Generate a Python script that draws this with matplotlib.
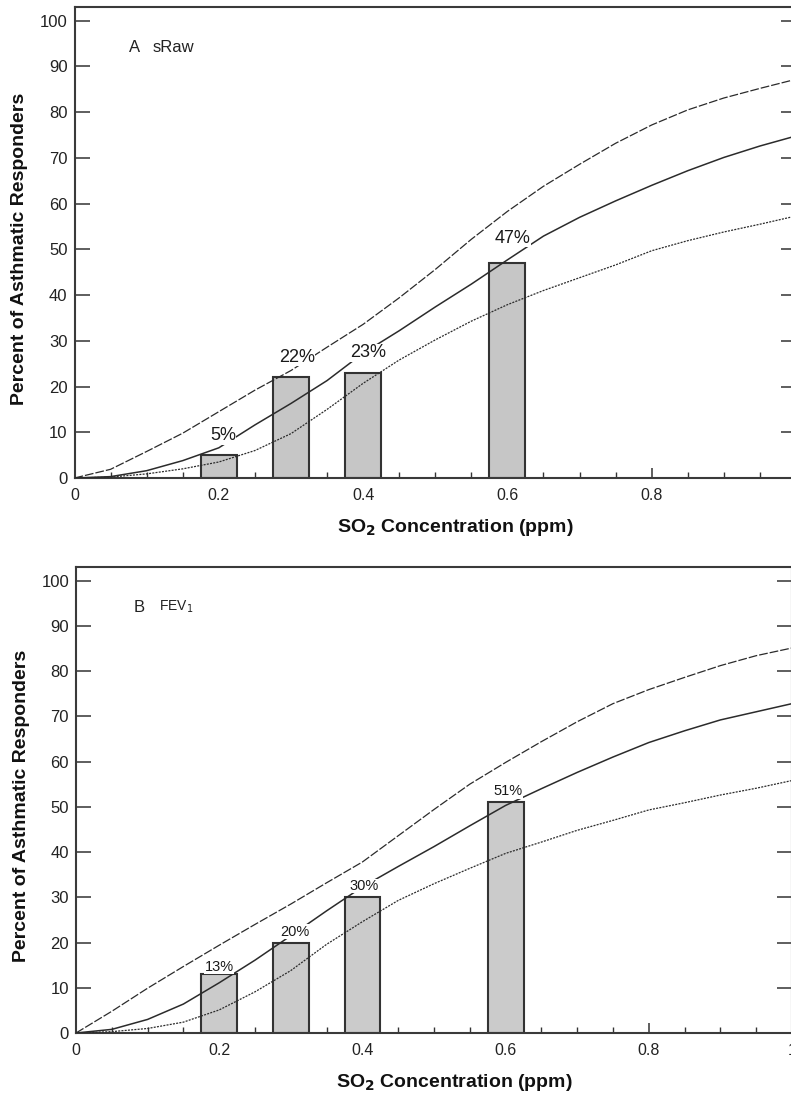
import matplotlib
matplotlib.use("Agg")
import matplotlib.pyplot as plt
from matplotlib.ticker import FixedLocator, MultipleLocator, FixedFormatter

plt.rcParams['font.family'] = ['Liberation Sans', 'DejaVu Sans']

# Concentration grid for the fitted dose-response curves (ppm)
conc_grid = [0.0, 0.05, 0.1, 0.15, 0.2, 0.25, 0.3, 0.35, 0.4, 0.45, 0.5,
             0.55, 0.6, 0.65, 0.7, 0.75, 0.8, 0.85, 0.9, 0.95, 1.0]

# Panel A: sRaw
sraw_upper = [0.0, 1.9, 5.8, 9.8, 14.5, 19.2, 23.5, 28.6, 33.6, 39.4, 45.6,
              52.2, 58.3, 63.8, 68.6, 73.2, 77.2, 80.5, 83.1, 85.2, 87.2]
sraw_fit = [0.0, 0.3, 1.6, 3.8, 6.6, 11.6, 16.3, 21.3, 27.3, 32.2, 37.4,
            42.4, 47.7, 52.9, 57.0, 60.6, 64.0, 67.2, 70.1, 72.6, 74.8]
sraw_lower = [0.0, 0.2, 0.9, 2.0, 3.5, 6.0, 9.7, 15.0, 20.7, 25.8, 30.2,
              34.3, 37.9, 41.0, 43.8, 46.6, 49.7, 51.9, 53.8, 55.5, 57.3]

# Panel B: FEV1
fev_upper = [0.0, 4.8, 9.9, 14.7, 19.4, 24.0, 28.5, 33.2, 37.8, 43.6, 49.4,
             55.0, 59.8, 64.4, 68.8, 72.8, 75.9, 78.6, 81.2, 83.4, 85.1]
fev_fit = [0.0, 0.8, 3.0, 6.4, 11.1, 16.1, 21.5, 27.0, 32.3, 36.8, 41.2,
           45.8, 50.3, 54.0, 57.6, 61.0, 64.2, 66.8, 69.2, 71.0, 72.8]
fev_lower = [0.0, 0.3, 1.0, 2.4, 5.1, 9.1, 13.8, 19.6, 24.6, 29.3, 33.0,
             36.4, 39.7, 42.2, 44.8, 47.0, 49.3, 50.9, 52.6, 54.1, 55.8]

# Observed percentages of responders at each exposure level
bar_conc = [0.2, 0.3, 0.4, 0.6]
sraw_pct = [5, 22, 23, 47]
fev_pct = [13, 20, 30, 51]

# Where each percentage label sits (x in ppm, y in percent)
sraw_label_x = [0.206, 0.308, 0.407, 0.607]
sraw_label_y = [9.2, 26.4, 27.4, 52.4]
fev_label_x = [0.200, 0.306, 0.402, 0.604]
fev_label_y = [14.6, 22.4, 32.5, 53.4]

x_ticks = [0, 0.2, 0.4, 0.6, 0.8, 1.0]
x_tick_labels_a = ["0", "0.2", "0.4", "0.6", "0.8", ""]
x_tick_labels_b = ["0", "0.2", "0.4", "0.6", "0.8", "1"]
y_ticks = list(range(0, 101, 10))

W, H = 791, 1095
fig = plt.figure(figsize=(W / 100, H / 100), dpi=100)

ink = '#2b2b2b'


def draw_panel(rect, upper, fit, lower, pct, lx, ly, label_size, bar_face,
               tick_labels, tag, tag_x, tag_sub, sub_x, sub_size):
    ax = fig.add_axes(rect)
    ax.bar(bar_conc, pct, width=0.05, color=bar_face, edgecolor='#333333',
           linewidth=1.5, zorder=2)
    ax.plot(conc_grid, upper, color=ink, lw=0.9, dashes=(7, 1.6), zorder=3)
    ax.plot(conc_grid, fit, color=ink, lw=1.1, zorder=3)
    ax.plot(conc_grid, lower, color=ink, lw=0.9, dashes=(1.6, 1.0), zorder=3)
    for v, x, y in zip(pct, lx, ly):
        ax.text(x, y, f"{v}%", ha='center', va='center', fontsize=label_size,
                color='#1a1a1a', zorder=4,
                bbox=dict(facecolor='white', edgecolor='none', pad=0.3))

    ax.set_xlim(0, 1.0)
    ax.set_ylim(0, 103)
    ax.xaxis.set_major_locator(FixedLocator(x_ticks))
    ax.xaxis.set_major_formatter(FixedFormatter(tick_labels))
    ax.xaxis.set_minor_locator(MultipleLocator(0.05))
    ax.set_yticks(y_ticks)

    ax.tick_params(axis='x', which='major', direction='in', length=7.5,
                   width=1.1, colors='#333333', labelcolor='#222222',
                   labelsize=11.5, pad=7, top=False)
    ax.tick_params(axis='x', which='minor', direction='in', length=4.5,
                   width=1.0, colors='#333333', top=False)
    ax.tick_params(axis='y', which='major', direction='in', length=10.5,
                   width=1.1, colors='#333333', labelcolor='#222222',
                   labelsize=12, pad=5, left=True, right=True)

    for side in ('left', 'bottom', 'top', 'right'):
        ax.spines[side].set_color('#3a3a3a')
        ax.spines[side].set_linewidth(1.5)

    ax.set_ylabel("Percent of Asthmatic Responders", fontsize=14,
                  fontweight='bold', color='#111111')
    ax.yaxis.set_label_coords(-0.064, 0.487)
    ax.set_xlabel(r"SO$_\mathbf{2}$ Concentration (ppm)", fontsize=14,
                  fontweight='bold', color='#111111')
    ax.xaxis.set_label_coords(0.528, -0.083)

    ax.text(tag_x, 94.1, tag, fontsize=12, color='#222222', ha='left',
            va='center')
    ax.text(sub_x, 94.1, tag_sub, fontsize=sub_size, color='#222222',
            ha='left', va='center')
    return ax


top_rect = [74.5 / W, 1 - 478 / H, (796 - 74.5) / W, (478 - 7) / H]
bot_rect = [76 / W, 1 - 1033 / H, (792 - 76) / W, (1033 - 567) / H]

draw_panel(top_rect, sraw_upper, sraw_fit, sraw_lower, sraw_pct,
           sraw_label_x, sraw_label_y, 13, '#c6c6c6', x_tick_labels_a,
           'A', 0.076, 'sRaw', 0.108, 12)
draw_panel(bot_rect, fev_upper, fev_fit, fev_lower, fev_pct,
           fev_label_x, fev_label_y, 10.5, '#cbcbcb', x_tick_labels_b,
           'B', 0.080, r'FEV$_1$', 0.116, 10)

fig.savefig("out.png", dpi=100, facecolor='white')
